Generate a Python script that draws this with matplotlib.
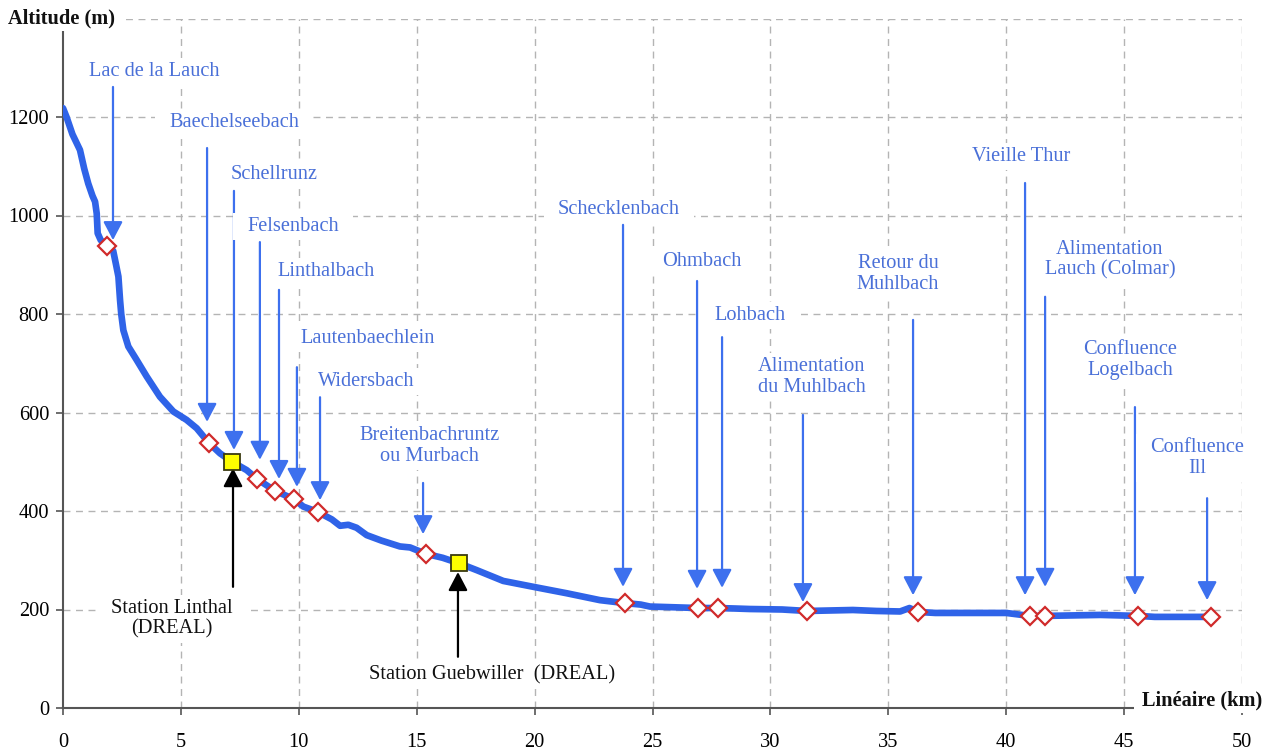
import matplotlib
matplotlib.use("Agg")
import matplotlib.pyplot as plt
from matplotlib.patches import Rectangle
from matplotlib.transforms import IdentityTransform

# ---------------- data ----------------
profile_km = [0.0, 0.15, 0.4, 0.72, 0.9, 1.07, 1.25, 1.36, 1.43, 1.47, 1.6, 1.75, 1.87,
              2.0, 2.13, 2.25, 2.35, 2.42, 2.47, 2.56, 2.77, 3.12, 3.55, 4.11, 4.68,
              5.24, 5.67, 6.19, 6.66, 7.17, 7.79, 8.23, 8.99, 9.8, 10.19, 10.81, 11.4,
              11.75, 12.1, 12.45, 12.88, 13.5, 14.29, 14.72, 15.39, 16.1, 16.79, 17.54,
              18.67, 19.95, 21.36, 22.77, 23.83, 24.5, 24.89, 26.93, 27.78, 28.5, 29.13,
              30.5, 31.55, 33.5, 34.5, 35.5, 35.9, 36.26, 37.0, 40.0, 41.0, 41.65, 44.0,
              45.59, 46.3, 48.69]
profile_alt = [1218, 1200, 1165, 1133, 1095, 1065, 1040, 1028, 1004, 964, 950, 944, 938,
               934, 928, 900, 876, 828, 800, 767, 734, 707, 673, 632, 602,
               585, 568, 538, 517, 500, 483, 465, 441, 424, 409, 398, 383,
               370, 372, 366, 351, 340, 328, 326, 313, 305, 294, 280,
               258, 246, 233, 219, 213, 210, 206, 203, 203, 202, 201,
               200, 197, 199, 197, 196, 203, 195, 193, 193, 187, 187, 189,
               187, 185, 185]

trib_names = ["Lac de la Lauch", "Baechelseebach", "Schellrunz", "Felsenbach", "Linthalbach",
              "Lautenbaechlein", "Widersbach", "Breitenbachruntz\nou Murbach", "Schecklenbach",
              "Ohmbach", "Lohbach", "Alimentation\ndu Muhlbach", "Retour du\nMuhlbach",
              "Vieille Thur", "Alimentation\nLauch (Colmar)", "Confluence\nLogelbach",
              "Confluence\nIll"]
trib_km = [1.87, 6.19, 7.25, 8.23, 8.99, 9.8, 10.81, 15.39, 23.83, 26.93, 27.78, 31.55,
           36.26, 41.0, 41.65, 45.59, 48.69]
trib_alt = [938, 538, 500, 465, 441, 424, 398, 313, 213, 203, 203, 197, 195, 187, 187, 187, 185]
trib_has_marker = [True, True, False, True, True, True, True, True, True, True, True, True,
                   True, True, True, True, True]

station_names = ["Station Linthal\n(DREAL)", "Station Guebwiller  (DREAL)"]
station_km = [7.17, 16.79]
station_alt = [500, 294]

x_ticks = list(range(0, 51, 5))
y_ticks = list(range(0, 1201, 200))
y_grid = list(range(200, 1401, 200))

# ---------------- layout (label / arrow placement) ----------------
label_xy = [(3.86, 1293), (7.25, 1188), (8.95, 1084), (9.75, 977), (11.15, 887),
            (12.93, 751), (12.85, 662), (15.56, 532), (23.58, 1013), (27.1, 906),
            (29.13, 796), (31.76, 672), (35.41, 881), (40.63, 1119), (44.4, 910),
            (45.25, 707), (48.09, 508)]
arrow_km = [2.12, 6.11, 7.25, 8.35, 9.16, 9.92, 10.9, 15.27, 23.75, 26.89, 27.95, 31.38,
            36.05, 40.8, 41.65, 45.46, 48.52]
arrow_top = [1261, 1137, 1050, 946, 849, 692, 631, 457, 981, 867, 753, 595, 788, 1066,
             835, 611, 426]
arrow_tip = [950, 581, 524, 504, 465, 449, 422, 353, 246, 242, 244, 215, 229, 229, 246,
             229, 219]
station_label_xy = [(4.62, 181), (18.19, 67)]
station_arrow_km = [7.21, 16.75]
station_arrow_bottom = [246, 104]
station_arrow_tip = [487, 276]

# ---------------- styling ----------------
FONT = "Liberation Serif"
FS = 14.7
LINE_BLUE = "#2f63e8"
ARROW_BLUE = "#3d70ee"
TEXT_BLUE = "#4a70d8"

fig = plt.figure(figsize=(12.75, 7.51), dpi=100)
ax = fig.add_axes([63 / 1275, 43 / 751, (1242 - 63) / 1275, (708 - 18.5) / 751])
ax.set_xlim(0, 50)
ax.set_ylim(0, 1400)

for g in x_ticks[1:]:
    ax.axvline(g, color="#b4b4b4", lw=1.0, ls=(0, (5, 4)), zorder=0)
for g in y_grid:
    ax.axhline(g, color="#b4b4b4", lw=1.0, ls=(0, (5, 4)), zorder=0)

for s in ["top", "right"]:
    ax.spines[s].set_visible(False)
for s in ["left", "bottom"]:
    ax.spines[s].set_color("#555555")
    ax.spines[s].set_linewidth(1.5)
ax.spines["left"].set_bounds(0, 1375)

ax.set_xticks(x_ticks)
ax.set_yticks(y_ticks)
ax.set_xticklabels([str(v) for v in x_ticks], fontfamily=FONT, fontsize=FS)
ax.set_yticklabels([str(v) for v in y_ticks], fontfamily=FONT, fontsize=FS)
ax.tick_params(axis="x", direction="out", length=5, width=1.2, color="#555555", pad=13)
ax.tick_params(axis="y", direction="out", length=5, width=1.2, color="#555555", pad=5)

# profile
ax.plot(profile_km, profile_alt, color=LINE_BLUE, lw=4.8, solid_capstyle="round",
        solid_joinstyle="round", zorder=5)

# tributary markers
mk_x = [k for k, m in zip(trib_km, trib_has_marker) if m]
mk_y = [a for a, m in zip(trib_alt, trib_has_marker) if m]
ax.plot(mk_x, mk_y, ls="none", marker="D", ms=9.5, mfc="white", mec="#d02a2a", mew=1.6,
        zorder=7)

# stations
ax.plot(station_km, station_alt, ls="none", marker="s", ms=12, mfc="#ffff00",
        mec="#3a3a10", mew=1.3, zorder=8)

ARROWSTYLE = "-|>,head_length=0.8,head_width=0.42"
# tributary arrows
for xk, yt, yp in zip(arrow_km, arrow_top, arrow_tip):
    ax.annotate("", xy=(xk, yp), xytext=(xk, yt),
                arrowprops=dict(arrowstyle=ARROWSTYLE, color=ARROW_BLUE, lw=1.6,
                                shrinkA=0, shrinkB=0, mutation_scale=14), zorder=3)

# station arrows
for xk, yb, yp in zip(station_arrow_km, station_arrow_bottom, station_arrow_tip):
    ax.annotate("", xy=(xk, yp), xytext=(xk, yb),
                arrowprops=dict(arrowstyle=ARROWSTYLE, color="black", lw=1.6,
                                shrinkA=0, shrinkB=0, mutation_scale=14), zorder=3)

texts = []
for name, (lx, ly) in zip(trib_names, label_xy):
    t = ax.text(lx, ly, name, ha="center", va="center", color=TEXT_BLUE, fontsize=FS,
                fontfamily=FONT, linespacing=1.1, zorder=4.5)
    texts.append(t)
for name, (lx, ly) in zip(station_names, station_label_xy):
    t = ax.text(lx, ly, name, ha="center", va="center", color="#111111", fontsize=FS,
                fontfamily=FONT, linespacing=1.1, zorder=4.5)
    texts.append(t)

t1 = fig.text(8 / 1275, 1 - 18 / 751, "Altitude (m)", ha="left", va="center",
              fontsize=FS, fontweight="bold", fontfamily=FONT, color="#111111", zorder=10)
t2 = fig.text(1262 / 1275, 1 - 700 / 751, "Linéaire (km)", ha="right", va="center",
              fontsize=FS, fontweight="bold", fontfamily=FONT, color="#111111", zorder=10)

# white text-box backgrounds (wider horizontal margins, as in the original boxes)
fig.canvas.draw()
renderer = fig.canvas.get_renderer()
PADX, PADY = 14, 4
for t in texts:
    bb = t.get_window_extent(renderer)
    r = Rectangle((bb.x0 - PADX, bb.y0 - PADY), bb.width + 2 * PADX, bb.height + 2 * PADY,
                  transform=IdentityTransform(), facecolor="white", edgecolor="none",
                  zorder=4, clip_on=False)
    ax.add_artist(r)
for t in [t1, t2]:
    bb = t.get_window_extent(renderer)
    r = Rectangle((bb.x0 - 8, bb.y0 - 3), bb.width + 16, bb.height + 6,
                  transform=IdentityTransform(), facecolor="white", edgecolor="none",
                  zorder=9)
    fig.add_artist(r)

fig.savefig("out.png", dpi=100)
